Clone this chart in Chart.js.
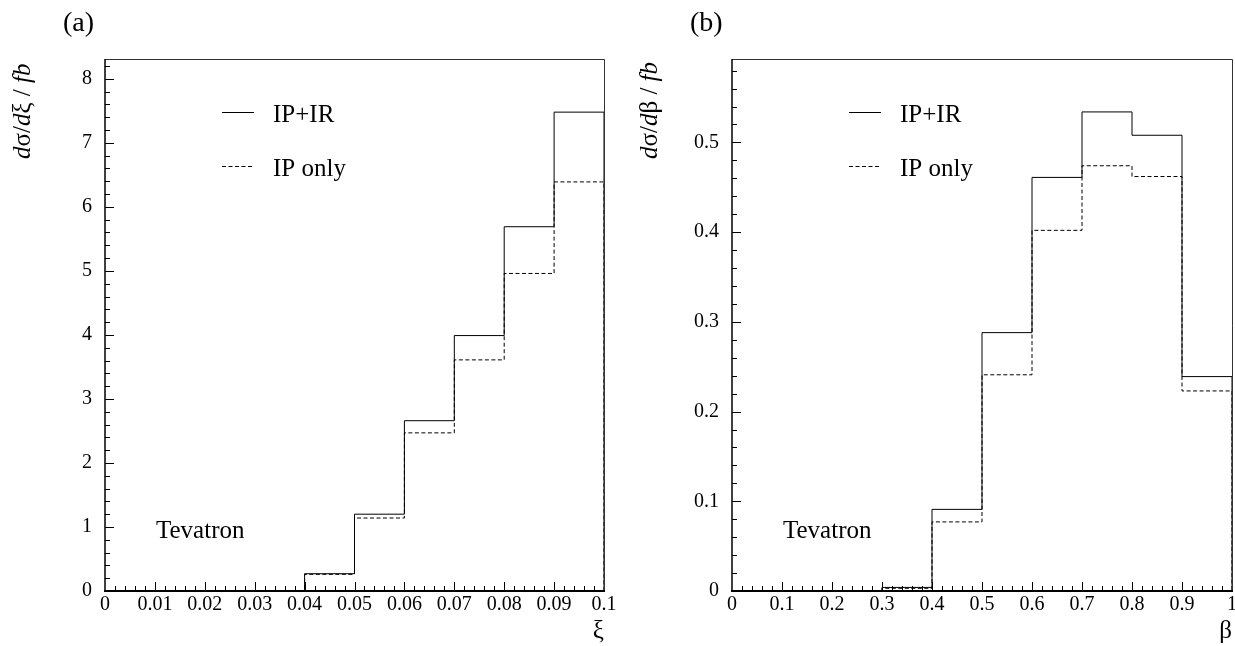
<!DOCTYPE html>
<html>
<head>
<meta charset="utf-8">
<title>Tevatron dσ/dξ and dσ/dβ</title>
<script src="https://cdn.jsdelivr.net/npm/chart.js@4"></script>
<style>
    html, body { margin: 0; padding: 0; background: #fff; overflow: hidden; }
    canvas { position: absolute; top: 0; }
    #chartA { left: 0; }
    #chartB { left: 620px; }
</style>
</head>
<body>
<canvas id="chartA" width="620" height="646"></canvas>
<canvas id="chartB" width="615" height="646"></canvas>

<script>
    // bin edges + contents
    const xiEdges = [0, 0.01, 0.02, 0.03, 0.04, 0.05, 0.06, 0.07, 0.08, 0.09, 0.1];
    const xiFull = [0, 0, 0, 0, 0.27, 1.20, 2.66, 3.99, 5.69, 7.48];
    const xiIPonly = [0, 0, 0, 0, 0.26, 1.14, 2.47, 3.61, 4.96, 6.39];

    const betaEdges = [0, 0.1, 0.2, 0.3, 0.4, 0.5, 0.6, 0.7, 0.8, 0.9, 1];
    const betaFull = [0, 0, 0, 0.004, 0.091, 0.288, 0.461, 0.534, 0.508, 0.239];
    const betaIPonly = [0, 0, 0, 0.003, 0.077, 0.241, 0.402, 0.474, 0.462, 0.223];

    const xiTicks = [0, 0.01, 0.02, 0.03, 0.04, 0.05, 0.06, 0.07, 0.08, 0.09, 0.1];
    const xiTickLabels = ['0', '0.01', '0.02', '0.03', '0.04', '0.05', '0.06', '0.07', '0.08', '0.09', '0.1'];
    const xiYTicks = [0, 1, 2, 3, 4, 5, 6, 7, 8];
    const xiYTickLabels = ['0', '1', '2', '3', '4', '5', '6', '7', '8'];

    const betaTicks = [0, 0.1, 0.2, 0.3, 0.4, 0.5, 0.6, 0.7, 0.8, 0.9, 1];
    const betaTickLabels = ['0', '0.1', '0.2', '0.3', '0.4', '0.5', '0.6', '0.7', '0.8', '0.9', '1'];
    const betaYTicks = [0, 0.1, 0.2, 0.3, 0.4, 0.5];
    const betaYTickLabels = ['0', '0.1', '0.2', '0.3', '0.4', '0.5'];

    const seriesNames = ['IP+IR', 'IP only'];

    const SERIF = '"Liberation Serif", "Times New Roman", serif';

    function histPoints(edges, vals) {
        const pts = vals.map((v, i) => ({x: edges[i], y: v}));
        const end = edges[edges.length - 1];
        pts.push({x: end, y: vals[vals.length - 1]});
        pts.push({x: end, y: 0});
        return pts;
    }

    // inward ticks, frame, legend and the other labels
    const decorPlugin = {
        id: 'decor',
        afterDatasetsDraw(chart) {
            const cfg = chart.options.plugins.decor;
            const {ctx, chartArea: a, scales: {x, y}} = chart;
            ctx.save();

            ctx.strokeStyle = '#000';
            ctx.lineWidth = 1;
            ctx.beginPath();
            const nx = Math.round(x.max / cfg.xMinor);
            for (let i = 1; i < nx; i++) {
                const v = i * cfg.xMinor;
                const major = cfg.xMajor.some(m => Math.abs(m - v) < cfg.xMinor / 10);
                const px = Math.round(x.getPixelForValue(v)) + 0.5;
                ctx.moveTo(px, a.bottom);
                ctx.lineTo(px, a.bottom - (major ? 9 : 5));
            }
            const ny = Math.floor(y.max / cfg.yMinor + 1e-6);
            for (let i = 1; i <= ny; i++) {
                const v = i * cfg.yMinor;
                const major = cfg.yMajor.some(m => Math.abs(m - v) < cfg.yMinor / 10);
                const py = Math.round(y.getPixelForValue(v)) + 0.5;
                ctx.moveTo(a.left, py);
                ctx.lineTo(a.left + (major ? 9 : 5), py);
            }
            ctx.stroke();

            // frame
            ctx.strokeStyle = '#333';
            ctx.lineWidth = 1;
            ctx.beginPath();
            ctx.moveTo(a.left, a.top + 0.5);
            ctx.lineTo(a.right + 0.5, a.top + 0.5);
            ctx.lineTo(a.right + 0.5, a.bottom);
            ctx.stroke();
            ctx.strokeStyle = '#000';
            ctx.lineWidth = 1.5;
            ctx.beginPath();
            ctx.moveTo(a.left, a.top);
            ctx.lineTo(a.left, a.bottom);
            ctx.stroke();
            ctx.lineWidth = 2;
            ctx.beginPath();
            ctx.moveTo(a.left - 1, a.bottom);
            ctx.lineTo(a.right + 1, a.bottom);
            ctx.stroke();

            // legend
            ctx.fillStyle = '#000';
            ctx.font = '25px ' + SERIF;
            ctx.textAlign = 'left';
            ctx.textBaseline = 'alphabetic';
            chart.data.datasets.forEach((ds, i) => {
                const ly = 112 + i * 54;
                ctx.strokeStyle = '#000';
                ctx.lineWidth = ds.borderWidth;
                ctx.setLineDash(ds.borderDash || []);
                ctx.beginPath();
                ctx.moveTo(a.left + 117, ly + 0.5);
                ctx.lineTo(a.left + 149, ly + 0.5);
                ctx.stroke();
                ctx.setLineDash([]);
                ctx.fillText(ds.label, a.left + 168, ly + 9.5);
            });

            ctx.fillText('Tevatron', a.left + 51, 538);

            ctx.font = '28px ' + SERIF;
            ctx.fillText(cfg.panel, a.left - 42, 31);

            // y axis title, mixed italic / upright
            ctx.translate(a.left - 75, 159);
            ctx.rotate(-Math.PI / 2);
            let pos = 0;
            cfg.yTitle.forEach(([txt, italic]) => {
                ctx.font = (italic ? 'italic ' : '') + '25px ' + SERIF;
                ctx.fillText(txt, pos, 0);
                pos += ctx.measureText(txt).width;
            });

            ctx.restore();
        }
    };

    function makeChart(id, c) {
        return new Chart(document.getElementById(id), {
            type: 'line',
            data: {
                datasets: [
                    {
                        label: seriesNames[0],
                        data: histPoints(c.edges, c.full),
                        borderColor: '#000',
                        borderWidth: 1,
                        stepped: 'before',
                        pointRadius: 0,
                        fill: false,
                        clip: false
                    },
                    {
                        label: seriesNames[1],
                        data: histPoints(c.edges, c.ipOnly),
                        borderColor: '#000',
                        borderWidth: 1,
                        borderDash: [4, 2.5],
                        stepped: 'before',
                        pointRadius: 0,
                        fill: false,
                        clip: false
                    }
                ]
            },
            plugins: [decorPlugin],
            options: {
                responsive: false,
                animation: false,
                events: [],
                layout: {padding: {top: 59, right: c.padRight, bottom: 0, left: 0}},
                plugins: {
                    legend: {display: false},
                    tooltip: {enabled: false},
                    decor: {
                        panel: c.panel,
                        yTitle: c.yTitle,
                        xMinor: c.xMinor,
                        yMinor: c.yMinor,
                        xMajor: c.xTicks,
                        yMajor: c.yTicks
                    }
                },
                scales: {
                    x: {
                        type: 'linear',
                        min: c.edges[0],
                        max: c.edges[c.edges.length - 1],
                        afterBuildTicks: s => { s.ticks = c.xTicks.map(v => ({value: v})); },
                        afterFit: s => { s.height = 55; s.paddingLeft = 0; s.paddingRight = 0; },
                        grid: {display: false, drawTicks: false},
                        border: {display: false},
                        ticks: {
                            autoSkip: false,
                            maxRotation: 0,
                            padding: 2,
                            color: '#000',
                            font: {family: SERIF, size: 20},
                            callback: (v, i) => c.xLabels[i]
                        },
                        title: {
                            display: true,
                            text: c.xTitle,
                            align: 'end',
                            color: '#000',
                            padding: 0,
                            font: {family: SERIF, size: 25}
                        }
                    },
                    y: {
                        type: 'linear',
                        min: 0,
                        max: c.yMax,
                        afterBuildTicks: s => { s.ticks = c.yTicks.map(v => ({value: v})); },
                        afterFit: s => { s.width = c.left; s.paddingTop = 0; s.paddingBottom = 0; },
                        grid: {display: false, drawTicks: false},
                        border: {display: false},
                        ticks: {
                            padding: 13,
                            color: '#000',
                            font: {family: SERIF, size: 20},
                            callback: (v, i) => c.yLabels[i]
                        }
                    }
                }
            }
        });
    }

    makeChart('chartA', {
        edges: xiEdges, full: xiFull, ipOnly: xiIPonly,
        xTicks: xiTicks, xLabels: xiTickLabels,
        yTicks: xiYTicks, yLabels: xiYTickLabels,
        yMax: 8.31, xMinor: 0.002, yMinor: 0.2,
        xTitle: 'ξ', panel: '(a)',
        yTitle: [['d', true], ['σ', false], ['/', false], ['d', true], ['ξ', false], [' / ', false], ['fb', true]],
        left: 105, padRight: 16
    });

    makeChart('chartB', {
        edges: betaEdges, full: betaFull, ipOnly: betaIPonly,
        xTicks: betaTicks, xLabels: betaTickLabels,
        yTicks: betaYTicks, yLabels: betaYTickLabels,
        yMax: 0.593, xMinor: 0.02, yMinor: 0.02,
        xTitle: 'β', panel: '(b)',
        yTitle: [['d', true], ['σ', false], ['/', false], ['d', true], ['β', false], [' / ', false], ['fb', true]],
        left: 112, padRight: 3
    });
</script>
</body>
</html>
